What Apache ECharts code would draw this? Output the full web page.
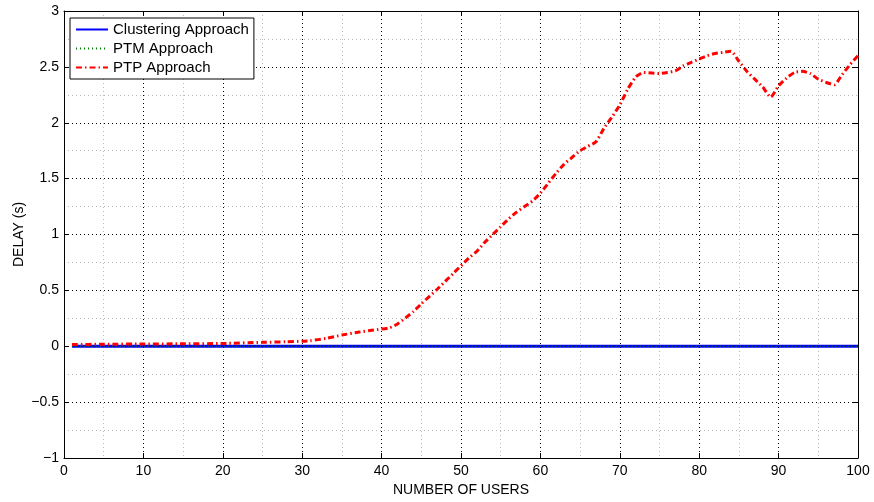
<!DOCTYPE html>
<html>
<head>
<meta charset="utf-8">
<script src="https://cdn.jsdelivr.net/npm/echarts@6/dist/echarts.min.js"></script>
<style>
  html, body { margin: 0; padding: 0; background: #fff; }
  #chart { width: 874px; height: 502px; }
</style>
</head>
<body>
<div id="chart"></div>
<script>
// ---- data ----
var seriesNames = ['Clustering Approach', 'PTM Approach', 'PTP Approach'];

var baselineUsers = [1, 100];
var clusteringDelay = [0, 0];
var ptmDelay = [0, 0];

var ptpUsers = [1, 5, 10, 15, 20, 25, 28, 30, 31, 33, 35, 37, 39, 41, 42, 44, 45, 47, 48, 49,
    51, 52, 53, 54, 55, 56, 57, 58, 59, 60, 61, 62, 63, 64, 65, 66, 67, 68, 69, 70,
    71, 72, 73, 74, 75, 76, 77, 78, 79, 80, 81, 82, 83, 84, 85, 86, 87, 88, 89, 90,
    91, 92, 93, 94, 95, 96, 97, 98, 99, 100];
var ptpDelay = [0.015, 0.018, 0.02, 0.022, 0.025, 0.035, 0.04, 0.045, 0.05, 0.07, 0.10, 0.125, 0.145, 0.165, 0.2, 0.31, 0.38, 0.51, 0.58, 0.65,
    0.79, 0.85, 0.93, 1.0, 1.07, 1.14, 1.2, 1.25, 1.3, 1.37, 1.46, 1.55, 1.63, 1.69, 1.75, 1.79, 1.83, 1.95, 2.05, 2.16,
    2.3, 2.41, 2.45, 2.445, 2.44, 2.45, 2.465, 2.51, 2.54, 2.57, 2.6, 2.62, 2.63, 2.64, 2.55, 2.46, 2.39, 2.32, 2.23, 2.33,
    2.40, 2.45, 2.46, 2.44, 2.39, 2.36, 2.34, 2.43, 2.52, 2.6];

function pairs(xs, ys) {
    return xs.map(function(x, i) { return [x, ys[i]]; });
}

var FONT = 'Liberation Sans, Arial, Helvetica, sans-serif';

var chart = echarts.init(document.getElementById('chart'), null, { renderer: 'canvas' });

var majorSplit = { show: true, lineStyle: { color: '#000', width: 1, type: [1, 3] } };
var minorSplit = { show: true, lineStyle: { color: '#b8b8b8', width: 1, type: [1, 3] } };

function fmtY(v) {
    return v < 0 ? '\u2212' + Math.abs(v) : String(v);
}

var option = {
    backgroundColor: '#fff',
    animation: false,
    grid: { left: 64, right: 16, top: 11, bottom: 41 },
    legend: {
        orient: 'vertical',
        left: 70,
        top: 18,
        padding: [4, 5, 4, 5],
        itemGap: 4,
        itemWidth: 32,
        itemHeight: 14,
        backgroundColor: '#fff',
        borderColor: '#000',
        borderWidth: 1,
        borderRadius: 0,
        itemStyle: { opacity: 0 },
        textStyle: { color: '#000', fontSize: 15, fontFamily: FONT },
        data: seriesNames
    },
    xAxis: [{
        type: 'value',
        min: 0, max: 100, interval: 10,
        name: 'NUMBER OF USERS',
        nameLocation: 'middle',
        nameGap: 25,
        nameTextStyle: { color: '#000', fontSize: 14, fontFamily: FONT },
        axisLine: { show: true, onZero: false, lineStyle: { color: '#000', width: 1 } },
        axisTick: { show: true, inside: true, length: 5, lineStyle: { color: '#000' } },
        axisLabel: { color: '#000', fontSize: 14, fontFamily: FONT, margin: 6 },
        splitLine: majorSplit,
        minorTick: { show: false, splitNumber: 2 },
        minorSplitLine: minorSplit
    }, {
        type: 'value', position: 'top',
        min: 0, max: 100, interval: 10,
        axisLine: { show: true, onZero: false, lineStyle: { color: '#000', width: 1 } },
        axisTick: { show: true, inside: true, length: 5, lineStyle: { color: '#000' } },
        axisLabel: { show: false },
        splitLine: { show: false }
    }],
    yAxis: [{
        type: 'value',
        min: -1, max: 3, interval: 0.5,
        name: 'DELAY (s)',
        nameLocation: 'middle',
        nameGap: 38,
        nameMoveOverlap: false,
        nameTextStyle: { color: '#000', fontSize: 14, fontFamily: FONT },
        axisLine: { show: true, onZero: false, lineStyle: { color: '#000', width: 1 } },
        axisTick: { show: true, inside: true, length: 5, lineStyle: { color: '#000' } },
        axisLabel: { color: '#000', fontSize: 14, fontFamily: FONT, margin: 5, formatter: fmtY },
        splitLine: majorSplit,
        minorTick: { show: false, splitNumber: 2 },
        minorSplitLine: minorSplit
    }, {
        type: 'value', position: 'right',
        min: -1, max: 3, interval: 0.5,
        axisLine: { show: true, onZero: false, lineStyle: { color: '#000', width: 1 } },
        axisTick: { show: true, inside: true, length: 5, lineStyle: { color: '#000' } },
        axisLabel: { show: false },
        splitLine: { show: false }
    }],
    series: [{
        name: seriesNames[0],
        type: 'line',
        data: pairs(baselineUsers, clusteringDelay),
        symbol: 'none',
        color: '#0000ff',
        lineStyle: { color: '#0000ff', width: 3, type: 'solid' }
    }, {
        name: seriesNames[1],
        type: 'line',
        data: pairs(baselineUsers, ptmDelay),
        symbol: 'none',
        color: '#008000',
        lineStyle: { color: '#008000', width: 1, type: [1, 3] }
    }, {
        name: seriesNames[2],
        type: 'line',
        data: pairs(ptpUsers, ptpDelay),
        symbol: 'none',
        smooth: 0.2,
        color: '#ff0000',
        lineStyle: { color: '#ff0000', width: 3, type: [6, 3, 1.5, 3] }
    }]
};

chart.setOption(option);
</script>
</body>
</html>
